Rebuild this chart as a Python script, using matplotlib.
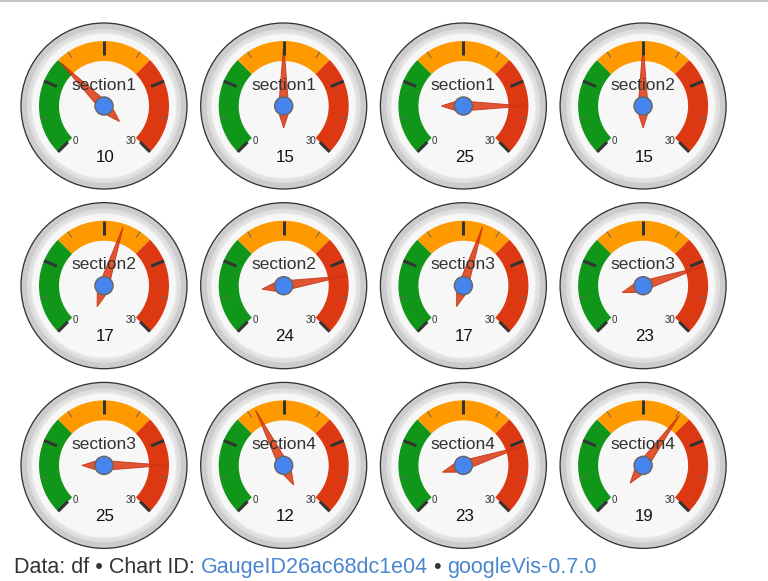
import numpy as np
import matplotlib
matplotlib.use('Agg')
from matplotlib import pyplot as plt
from matplotlib.patches import Circle, Wedge, Polygon

plt.rcParams['font.family'] = ['Liberation Sans', 'DejaVu Sans']

# gauge data (googleVis gvisGauge, 4 columns)
labels = ['section1', 'section1', 'section1', 'section2', 'section2', 'section2',
          'section3', 'section3', 'section3', 'section4', 'section4', 'section4']
values = [10, 15, 25, 15, 17, 24, 17, 23, 25, 12, 23, 19]
vmin, vmax = 0, 30
bands = [(0, 10, '#109618'), (10, 20, '#FF9900'), (20, 30, '#DC3912')]
major_ticks = [0, 7.5, 15, 22.5, 30]
minor_ticks = [3.75, 11.25, 18.75, 26.25]

W, H = 768, 581
fig = plt.figure(figsize=(W / 100, H / 100), dpi=100)
ax = fig.add_axes([0, 0, 1, 1])
ax.set_xlim(0, W)
ax.set_ylim(H, 0)
ax.axis('off')

ncol = 4
x0, y0, step = 104, 106, 179.7
R = 83  # outer radius in px
PX = 0.72  # px -> pt


def ang(v):
    # clockwise from vertical, 270 degree sweep
    return np.deg2rad((v - vmin) / (vmax - vmin) * 270 - 135)


def pt(cx, cy, v, r):
    a = ang(v)
    return cx + r * np.sin(a), cy - r * np.cos(a)


def wedge_deg(v):
    # matplotlib wedge angle with y axis flipped
    return 90 - np.rad2deg(ang(v))


for i, (lab, val) in enumerate(zip(labels, values)):
    cx = x0 + (i % ncol) * step
    cy = y0 + (i // ncol) * step

    ax.add_patch(Circle((cx, cy), R, fc='#cccccc', ec='#333333', lw=1.3 * PX))
    ax.add_patch(Circle((cx, cy), R - 6, fc='#dedede', ec='none'))
    ax.add_patch(Circle((cx, cy), R - 10, fc='#f7f7f7', ec='#e6e6e6', lw=2 * PX))

    for a, b, c in bands:
        # y axis is inverted, so angles run the other way
        t1, t2 = -wedge_deg(a), -wedge_deg(b)
        ax.add_patch(Wedge((cx, cy), 65, min(t1, t2), max(t1, t2), width=20, fc=c, ec='none'))

    for t in minor_ticks:
        (xa, ya), (xb, yb) = pt(cx, cy, t, 58), pt(cx, cy, t, 65)
        ax.plot([xa, xb], [ya, yb], color='#666666', lw=1 * PX, solid_capstyle='butt')
    for t in major_ticks:
        (xa, ya), (xb, yb) = pt(cx, cy, t, 51), pt(cx, cy, t, 65)
        ax.plot([xa, xb], [ya, yb], color='#333333', lw=3 * PX, solid_capstyle='butt')

    lx, ly = pt(cx, cy, vmin, 46)
    ax.text(lx + 1, ly + 2, str(vmin), fontsize=7, color='#333333', ha='left', va='center')
    lx, ly = pt(cx, cy, vmax, 46)
    ax.text(lx, ly + 2, str(vmax), fontsize=7, color='#333333', ha='right', va='center')

    ax.text(cx, cy - 21, lab, fontsize=12.5, color='#333333', ha='center', va='center')
    ax.text(cx + 1, cy + 51, str(val), fontsize=12.2, color='#111111', ha='center', va='center')

    # needle
    d = (vmax - vmin) / 11
    tail = val - (vmax - vmin) * (360 / 270) / 2
    pts = [pt(cx, cy, val, 62), pt(cx, cy, val - d, 10), pt(cx, cy, tail + d, 10),
           pt(cx, cy, tail, 22), pt(cx, cy, tail - d, 10), pt(cx, cy, val + d, 10)]
    ax.add_patch(Polygon(pts, closed=True, fc='#dc3912', ec='#c63310', alpha=0.85, lw=1 * PX))
    ax.add_patch(Circle((cx, cy), 9, fc='#4684EE', ec='#666666', lw=1.5 * PX))

# top border line of page
ax.plot([0, W], [1, 1], color='#c4c4c4', lw=2 * PX)

# footer
parts = [('Data: df \u2022 Chart ID: ', '#333333'), ('GaugeID26ac68dc1e04', '#4a86cf'),
         (' \u2022 ', '#333333'), ('googleVis-0.7.0', '#4a86cf')]
renderer = fig.canvas.get_renderer()
x = 14
for s, c in parts:
    t = ax.text(x, 573, s, fontsize=15.5, color=c, ha='left', va='baseline')
    bb = t.get_window_extent(renderer=renderer)
    x += bb.width

fig.savefig('out.png', dpi=100)
